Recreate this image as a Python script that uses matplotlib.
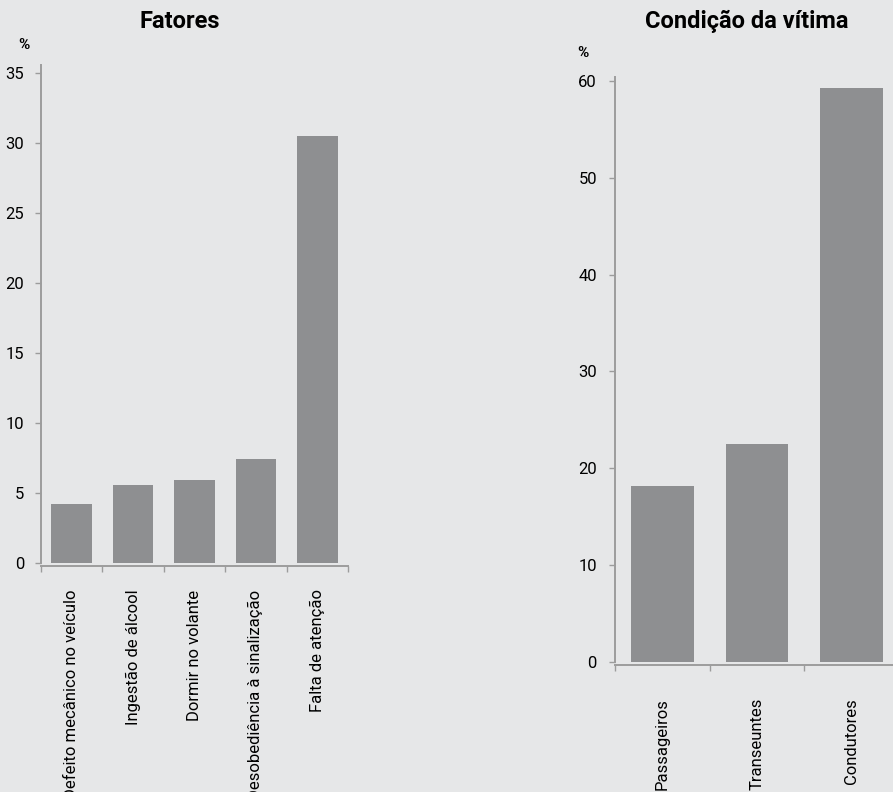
import matplotlib
matplotlib.use("Agg")
import matplotlib.pyplot as plt
import numpy as np

plt.rcParams['font.family'] = ['Roboto', 'DejaVu Sans']

fatores = ["Defeito mecânico no veículo", "Ingestão de álcool", "Dormir no volante",
           "Desobediência à sinalização", "Falta de atenção"]
fatores_vals = [4.2, 5.6, 5.9, 7.4, 30.5]
fatores_ticks = [0, 5, 10, 15, 20, 25, 30, 35]

condicao = ["Passageiros", "Transeuntes", "Condutores"]
condicao_vals = [18.2, 22.5, 59.3]
condicao_ticks = [0, 10, 20, 30, 40, 50, 60]

BG = "#e6e7e8"
BAR = "#8e8f91"
SPINE = "#9c9c9c"

W, H = 893, 792
fig = plt.figure(figsize=(W / 100, H / 100), dpi=100, facecolor=BG)


def px_axes(x0, x1, y_top, y_bot):
    return fig.add_axes([x0 / W, 1 - y_bot / H, (x1 - x0) / W, (y_bot - y_top) / H])


def style(ax, cats, vals, ticks, ylim, xpad, ypad):
    ax.set_facecolor(BG)
    for s in ['top', 'right']:
        ax.spines[s].set_visible(False)
    for s in ['left', 'bottom']:
        ax.spines[s].set_color(SPINE)
        ax.spines[s].set_linewidth(1.4)
    ax.spines['bottom'].set_position(('outward', 2))
    x = np.arange(len(cats))
    ax.bar(x, vals, width=0.66, color=BAR, zorder=2)
    ax.set_xlim(-0.5, len(cats) - 0.5)
    ax.set_ylim(0, ylim)
    ax.set_xticks(np.arange(len(cats) + 1) - 0.5, minor=True)
    ax.tick_params(axis='x', which='major', length=0, pad=xpad, labelrotation=90)
    ax.tick_params(axis='x', which='minor', length=4, width=1, color=SPINE)
    ax.tick_params(axis='y', length=4, width=1, color=SPINE, pad=ypad)
    ax.set_yticks(ticks)
    ax.set_yticklabels([str(t) for t in ticks], fontsize=12)
    ax.set_xticks(x)
    ax.set_xticklabels(cats, fontsize=12, rotation=90, ha='center', va='top')


ax1 = px_axes(41, 348, 65, 563)
style(ax1, fatores, fatores_vals, fatores_ticks, 35.6, 17, 8)

ax2 = px_axes(615, 899, 77, 662)
style(ax2, condicao, condicao_vals, condicao_ticks, 60.4, 24, 9)

fig.text(180 / W, 1 - 22 / H, "Fatores", ha='center', va='center', fontsize=17, fontweight='bold')
fig.text(747 / W, 1 - 21 / H, "Condição da vítima", ha='center', va='center', fontsize=17, fontweight='bold')
fig.text(24 / W, 1 - 45 / H, "%", ha='center', va='center', fontsize=11, fontweight='bold')
fig.text(583 / W, 1 - 53 / H, "%", ha='center', va='center', fontsize=11, fontweight='bold')

fig.savefig("out.png", dpi=100, facecolor=BG)
